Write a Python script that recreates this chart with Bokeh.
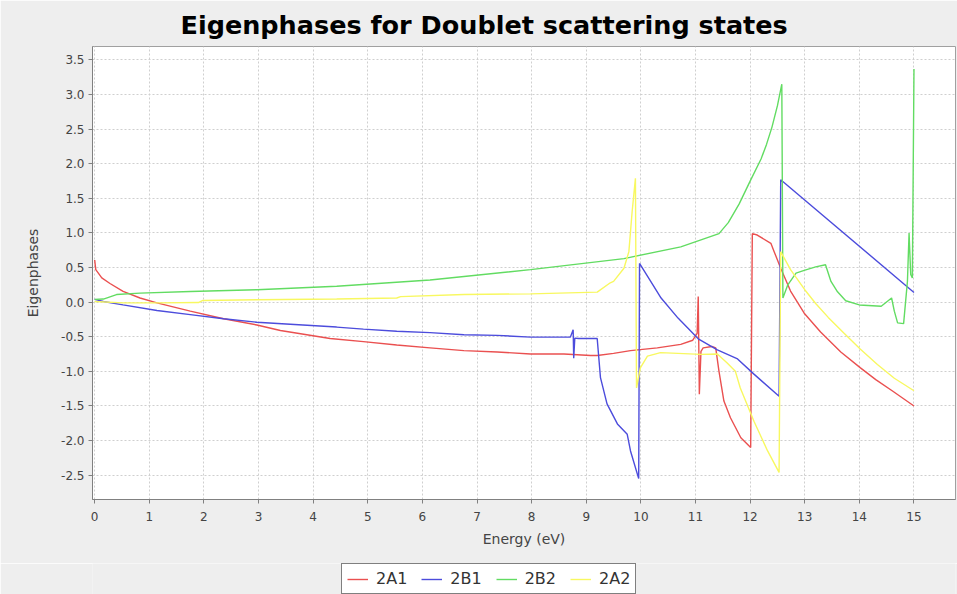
from bokeh.plotting import figure
from bokeh.layouts import column
from bokeh.models import FixedTicker, CustomJSTickFormatter, Legend, LegendItem, Range1d
from bokeh.embed import file_html
from bokeh.resources import INLINE

title_text = "Eigenphases for Doublet  scattering states"
x_label = "Energy (eV)"
y_label = "Eigenphases"
series_names = ["2A1", "2B1", "2B2", "2A2"]
x_ticks = list(range(0, 16))
y_ticks = [-2.5, -2.0, -1.5, -1.0, -0.5, 0.0, 0.5, 1.0, 1.5, 2.0, 2.5, 3.0, 3.5]

x_2a1 = [0.0, 0.02, 0.13, 0.28, 0.52, 0.83, 1.14, 1.75, 2.36, 2.97, 3.40, 4.31, 4.92, 5.53,
         6.14, 6.76, 7.37, 7.98, 8.59, 9.08, 9.2, 9.5, 9.81, 10.3, 10.73, 10.95, 11.03, 11.05,
         11.07, 11.1, 11.14, 11.3, 11.37, 11.43, 11.52, 11.64, 11.83, 12.01, 12.04, 12.13,
         12.38, 12.44, 12.56, 12.74, 12.99, 13.29, 13.66, 14.02, 14.3, 14.6, 15.0]
y_2a1 = [0.61, 0.47, 0.35, 0.27, 0.155, 0.06, -0.01, -0.13, -0.24, -0.33, -0.41, -0.525, -0.57,
         -0.62, -0.66, -0.70, -0.72, -0.75, -0.75, -0.77, -0.77, -0.74, -0.70, -0.66, -0.61,
         -0.55, -0.45, 0.08, -1.33, -0.71, -0.66, -0.64, -0.66, -1.0, -1.43, -1.67, -1.96,
         -2.10, 0.99, 0.97, 0.85, 0.73, 0.49, 0.16, -0.16, -0.43, -0.72, -0.95, -1.12, -1.28,
         -1.50]

x_2b1 = [0.0, 0.16, 0.52, 1.14, 1.75, 2.36, 2.97, 3.58, 4.43, 4.92, 5.53, 6.14, 6.76, 7.37,
         7.98, 8.71, 8.76, 8.77, 8.79, 8.86, 9.2, 9.26, 9.38, 9.57, 9.75, 9.81, 9.96, 9.975,
         10.18, 10.37, 10.68, 11.05, 11.4, 11.77, 12.07, 12.53, 12.56, 15.0]
y_2b1 = [0.04, 0.01, -0.04, -0.12, -0.18, -0.24, -0.29, -0.32, -0.36, -0.39, -0.42, -0.44,
         -0.47, -0.48, -0.505, -0.505, -0.40, -0.81, -0.52, -0.525, -0.525, -1.09, -1.47,
         -1.76, -1.91, -2.15, -2.55, 0.56, 0.30, 0.06, -0.23, -0.53, -0.69, -0.82, -1.04,
         -1.36, 1.77, 0.14]

x_2b2 = [0.0, 0.16, 0.40, 0.83, 1.75, 2.97, 4.43, 6.14, 7.98, 9.69, 10.73, 11.43, 11.6, 11.8,
         12.0, 12.2, 12.3, 12.4, 12.5, 12.58, 12.6, 12.69, 12.84, 12.99, 13.2, 13.38, 13.48,
         13.6, 13.75, 14.0, 14.4, 14.59, 14.64, 14.7, 14.81, 14.88, 14.91, 14.94, 14.97, 15.0]
y_2b2 = [0.04, 0.045, 0.11, 0.13, 0.155, 0.18, 0.23, 0.32, 0.47, 0.63, 0.80, 0.99, 1.15, 1.42,
         1.75, 2.07, 2.28, 2.53, 2.84, 3.15, 0.06, 0.25, 0.42, 0.46, 0.51, 0.54, 0.30, 0.15,
         0.02, -0.04, -0.06, 0.06, -0.13, -0.30, -0.31, 0.30, 1.0, 0.40, 0.35, 3.37]

x_2a2 = [0.0, 0.52, 1.14, 1.9, 1.98, 2.97, 4.43, 5.53, 5.6, 6.76, 7.98, 9.2, 9.44, 9.5, 9.69,
         9.78, 9.84, 9.9, 9.92, 9.99, 10.12, 10.36, 11.1, 11.4, 11.58, 11.73, 11.82, 12.07,
         12.32, 12.53, 12.56, 12.74, 13.0, 13.2, 13.43, 13.72, 14.02, 14.33, 14.64, 15.0]
y_2a2 = [0.01, -0.01, -0.01, -0.005, 0.025, 0.035, 0.045, 0.06, 0.08, 0.11, 0.12, 0.145, 0.28,
         0.30, 0.49, 0.73, 1.31, 1.79, -1.24, -0.95, -0.78, -0.73, -0.755, -0.75, -0.88, -1.0,
         -1.24, -1.72, -2.15, -2.46, 0.73, 0.47, 0.18, -0.02, -0.22, -0.45, -0.68, -0.90,
         -1.10, -1.28]

colors = ["#EA5050", "#4C4CDC", "#62DC62", "#F8F860"]
bg = "#EEEEEE"

p = figure(width=957, height=563, output_backend="svg", toolbar_location=None,
           x_range=Range1d(-0.04, 15.76), y_range=Range1d(-2.852, 3.695),
           min_border_left=92, min_border_right=2, min_border_top=44, min_border_bottom=64)
p.background_fill_color = "white"
p.border_fill_color = bg
p.outline_line_color = "#A0A0A0"

p.title.text = title_text
p.title.align = "left"
p.title.offset = 88
p.title.standoff = 14
p.title.text_font = "DejaVu Sans"
p.title.text_font_style = "bold"
p.title.text_font_size = "25.5px"
p.title.text_color = "#000000"

p.xaxis.ticker = FixedTicker(ticks=x_ticks)
p.xaxis.formatter = CustomJSTickFormatter(code="return tick.toFixed(0);")
p.yaxis.ticker = FixedTicker(ticks=y_ticks)
p.yaxis.formatter = CustomJSTickFormatter(code="return tick.toFixed(1);")
for ax in (p.xaxis, p.yaxis):
    ax.axis_line_color = "#808080"
    ax.major_tick_line_color = "#808080"
    ax.major_tick_in = 0
    ax.major_tick_out = 4
    ax.minor_tick_line_color = None
    ax.major_label_text_font = "DejaVu Sans"
    ax.major_label_text_font_size = "12px"
    ax.major_label_text_color = "#444444"
    ax.axis_label_text_font = "DejaVu Sans"
    ax.axis_label_text_font_size = "14px"
    ax.axis_label_text_font_style = "normal"
    ax.axis_label_text_color = "#444444"
p.xaxis.axis_label = x_label
p.yaxis.axis_label = y_label
p.xaxis.major_label_standoff = 8
p.xaxis.axis_label_standoff = 7
p.yaxis.major_label_standoff = 4
p.yaxis.axis_label_standoff = 17

for g in (p.xgrid, p.ygrid):
    g.grid_line_color = "#CFCFCF"
    g.grid_line_dash = "2 2"
    g.grid_line_width = 1

xs = [x_2a1, x_2b1, x_2b2, x_2a2]
ys = [y_2a1, y_2b1, y_2b2, y_2a2]
for xv, yv, c in zip(xs, ys, colors):
    p.line(xv, yv, line_color=c, line_width=1.4)

# legend strip below the chart (its own renderers sit outside its visible range)
q = figure(width=957, height=31, output_backend="svg", toolbar_location=None,
           x_axis_type=None, y_axis_type=None, x_range=Range1d(100, 101),
           y_range=Range1d(100, 101), min_border=0)
q.background_fill_color = bg
q.border_fill_color = bg
q.outline_line_color = None
q.grid.visible = False
items = []
for name, xv, yv, c in zip(series_names, xs, ys, colors):
    r = q.line(xv, yv, line_color=c, line_width=1.4)
    items.append(LegendItem(label=name, renderers=[r]))
legend = Legend(items=items, orientation="horizontal", location=(249, 0),
                background_fill_color="white", background_fill_alpha=1.0,
                border_line_color="#000000", border_line_width=1,
                label_text_font="DejaVu Sans", label_text_font_size="16px",
                label_text_color="#333333", glyph_width=21, glyph_height=16,
                label_standoff=8, spacing=14, padding=5, margin=0)
q.add_layout(legend, "center")

layout = column(p, q, spacing=0)
open("out.html", "w").write(file_html(layout, INLINE))
